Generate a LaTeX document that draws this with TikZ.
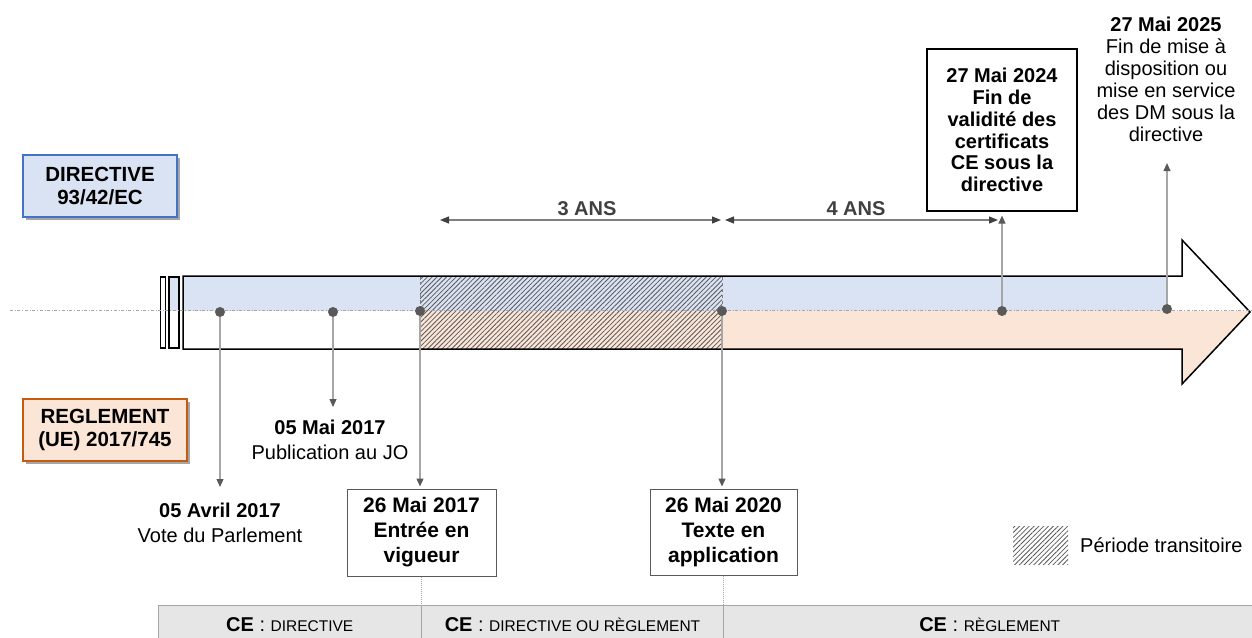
\documentclass[tikz,border=0pt]{standalone}
\usepackage{fontspec}
\setmainfont{Liberation Sans}
\usetikzlibrary{arrows.meta,patterns.meta,shadows}

\definecolor{dirfill}{HTML}{DAE3F3}
\definecolor{dirline}{HTML}{4472C4}
\definecolor{regfill}{HTML}{FBE5D6}
\definecolor{regline}{HTML}{C55A11}
\definecolor{dotgray}{HTML}{595959}
\definecolor{stemgray}{HTML}{A6A6A6}
\definecolor{dimgray}{HTML}{7F7F7F}
\definecolor{textgray}{HTML}{404040}
\definecolor{cellfill}{HTML}{E7E6E6}

\newcommand\setfs[2]{\fontsize{#1}{#2}\selectfont}

\begin{document}
\begin{tikzpicture}[x=1pt,y=-1pt,
  every node/.style={inner sep=0pt, font=\setfs{20}{24}},
  legendbox/.style={draw, line width=1.3pt, minimum height=62pt, align=center,
    font=\bfseries\setfs{20.5}{23},
    drop shadow={shadow xshift=3pt,shadow yshift=-3pt,opacity=0.35,fill=black}},
  evdot/.style={circle, fill=dotgray, minimum size=10pt},
  stem/.style={draw=stemgray, line width=1.2pt,
    -{Triangle[length=8pt,width=7pt,color=dotgray]}},
  evtxt/.style={align=center, font=\setfs{20}{24.5}},
  evbox/.style={draw=dotgray, line width=1pt, align=center,
    font=\bfseries\setfs{21}{25}},
  dim/.style={draw=dimgray, line width=1.2pt,
    {Triangle[length=9pt,width=7pt,color=textgray]}-{Triangle[length=9pt,width=7pt,color=textgray]}},
  dimlbl/.style={font=\bfseries\setfs{20}{24}, text=textgray},
  tcell/.style={draw=stemgray, fill=cellfill, minimum height=40pt, line width=1pt},
  hatchfill/.style={pattern={Lines[angle=45,distance=3.4pt,line width=0.8pt]},
    pattern color=dotgray}
]
\useasboundingbox (0,0) rectangle (1252,637);

% ---- legend boxes for the two texts
\node[legendbox, fill=dirfill, draw=dirline, minimum width=154pt] (dir) at (100,186)
  {DIRECTIVE\\93/42/EC};
\node[legendbox, fill=regfill, draw=regline, minimum width=164pt] (reg) at (105,430)
  {REGLEMENT\\(UE) 2017/745};

% ---- timeline bar
\fill[dirfill] (183,276) rectangle (1167,311);
\fill[dirfill] (169,276) rectangle (179,311);
\fill[regfill] (420,311) -- (1250,311) -- (1182,384) -- (1182,349) -- (420,349) -- cycle;
\fill[hatchfill] (420,276) rectangle (722,349);
\draw[dashed, dimgray, line width=0.6pt] (420,276) rectangle (722,349);
\draw[line width=1.5pt, line join=miter]
  (183,276) -- (1182,276) -- (1182,240) -- (1250,312) -- (1182,384)
  -- (1182,349) -- (183,349) -- cycle;
\draw[line width=1.3pt] (160.5,277) rectangle (165.5,348);
\draw[line width=1.3pt] (169,277) rectangle (179,348);
\draw[stemgray, dash dot, line width=0.8pt] (10,310) -- (1252,310);

% ---- events on the timeline
\node[evdot] (d1) at (220,312) {};
\node[evdot] (d2) at (333,312) {};
\node[evdot] (d3) at (420,311) {};
\node[evdot] (d4) at (722,311) {};
\node[evdot] (d5) at (1002,311) {};
\node[evdot] (d6) at (1167,309) {};

\node[evtxt, anchor=north] (a1) at (220,503)
  {\textbf{05 Avril 2017}\\Vote du Parlement};
\node[evtxt, anchor=north] (a2) at (330,420)
  {\textbf{05 Mai 2017}\\Publication au JO};
\node[evbox, minimum width=149pt, minimum height=87pt] (b1) at (421.5,532.5)
  {26 Mai 2017\\Entrée en\\vigueur};
\node[evbox, minimum width=147pt, minimum height=86pt] (b2) at (723.5,532)
  {26 Mai 2020\\Texte en\\application};
\node[evbox, draw=black, line width=1.2pt, minimum width=150pt, minimum height=162pt,
  font=\bfseries\setfs{20}{21.7}] (b3) at (1002,130)
  {27 Mai 2024\\Fin de\\validité des\\certificats\\CE sous la\\directive};
\node[align=center, font=\setfs{20}{22}, anchor=north] (a3) at (1166,17)
  {\textbf{27 Mai 2025}\\Fin de mise à\\disposition ou\\mise en service\\des DM sous la\\directive};

\draw[stem, shorten >=16pt] (d1) -- (d1 |- a1.north);
\draw[stem, shorten >=13pt] (d2) -- (d2 |- a2.north);
\draw[stem, shorten >=2pt] (d3) -- (d3 |- b1.north);
\draw[stem, shorten >=2pt] (d4) -- (d4 |- b2.north);
\draw[stem, shorten >=4pt] (d5) -- (d5 |- b3.south);
\draw[stem, shorten >=21pt] (d6) -- (d6 |- a3.south);

% ---- durations
\coordinate (s3a) at (440,220);
\coordinate (s3b) at (721,220);
\coordinate (s4a) at (725,220);
\coordinate (s4b) at (998,220);
\draw[dim] (s3a) -- (s3b);
\draw[dim] (s4a) -- (s4b);
\node[dimlbl] (l3) at (587,209) {3 ANS};
\node[dimlbl] (l4) at (856,209) {4 ANS};

% ---- marking regime per period
\node[tcell, minimum width=263.5pt] (c1) at (289.75,625)
  {\textbf{CE} : {\setfs{15.5}{18}DIRECTIVE}};
\node[tcell, minimum width=302pt] (c2) at (572.5,625)
  {\textbf{CE} : {\setfs{15.5}{18}DIRECTIVE OU RÈGLEMENT}};
\node[tcell, minimum width=532.5pt] (c3) at (989.75,625)
  {\textbf{CE} : {\setfs{15.5}{18}RÈGLEMENT}};
\draw[stemgray, densely dotted, line width=1pt] (b1.south) -- (b1.south |- c2.north);
\draw[stemgray, densely dotted, line width=1pt] (b2.south) -- (b2.south |- c3.north);

% ---- key
\node[hatchfill, minimum width=55pt, minimum height=38pt] (lg) at (1040.5,545) {};
\node[anchor=west] (lt) at (1080,545) {Période transitoire};
\end{tikzpicture}
\end{document}
